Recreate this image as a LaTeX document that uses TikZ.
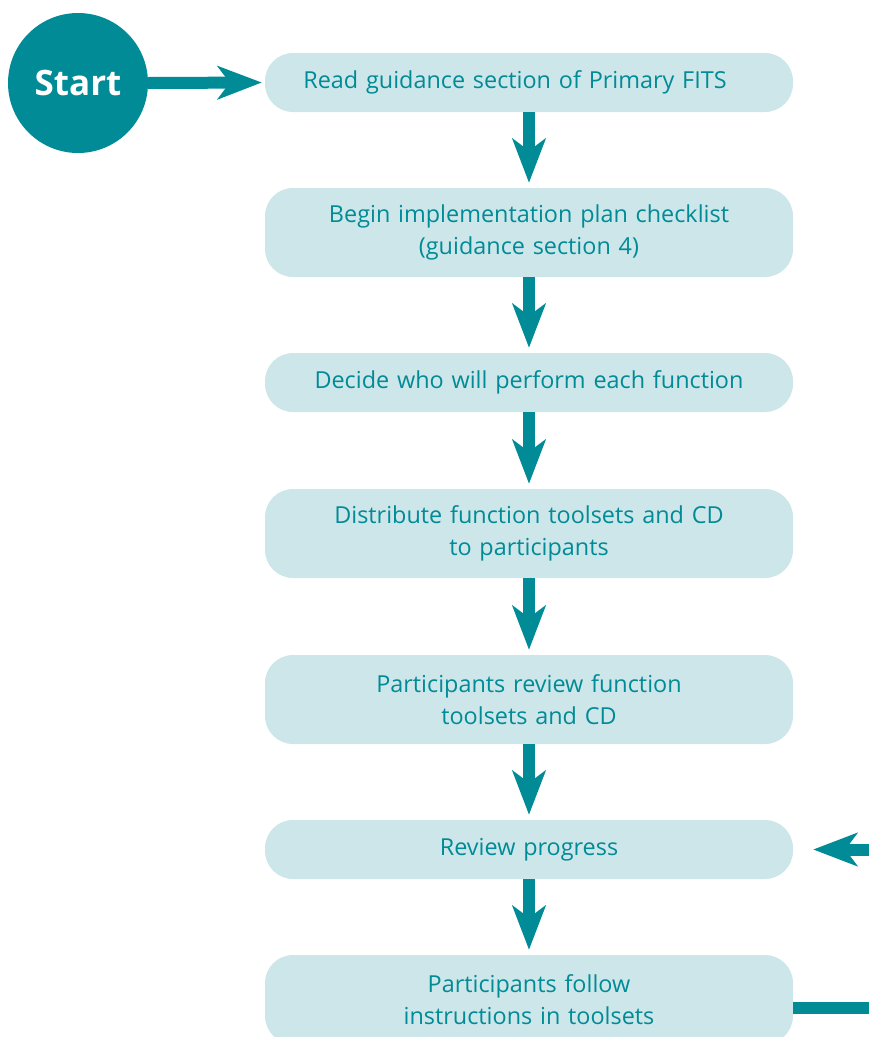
\documentclass[tikz,border=0pt]{standalone}
\usepackage{fontspec}
\setmainfont{Open Sans}
\usetikzlibrary{arrows.meta}
\definecolor{teal0}{RGB}{0,139,150}
\definecolor{boxfill}{RGB}{205,230,233}
\tikzset{
  x=1pt, y=-1pt,
  stepbox/.style={fill=boxfill, draw=none, rounded corners=28pt, minimum width=528pt, text width=510pt, align=center, text=teal0, font=\fontsize{23.4}{32}\selectfont, inner sep=0pt},
  onebox/.style={stepbox, minimum height=59pt},
  twobox/.style={stepbox, minimum height=89pt},
  flow/.style={draw=teal0, line width=12pt, -{Stealth[length=44pt, width=33pt, inset=12pt]}}
}
\begin{document}
\begin{tikzpicture}
\path[use as bounding box, clip] (0,0) rectangle (869,1037);
\node[circle, fill=teal0, minimum size=140pt, inner sep=0pt, text=white, font=\fontsize{35}{40}\selectfont\bfseries] (start) at (78,83) {Start};
\node[onebox] (b1) at (529,82.5) {Read guidance section of Primary FITS\hspace*{28pt}};
\node[twobox] (b2) at (529,232.5) {Begin implementation plan checklist\\(guidance section 4)};
\node[onebox] (b3) at (529,382.5) {Decide who will perform each function};
\node[twobox] (b4) at (529,533.5) {Distribute function toolsets and CD\\to participants};
\node[twobox] (b5) at (529,699.5) {Participants review function\\toolsets and CD};
\node[onebox] (b6) at (529,849.5) {Review progress};
\node[twobox] (b7) at (529,999.5) {Participants follow\\instructions in toolsets};
\draw[flow, shorten >=3pt] (start.east) -- (b1.west);
\draw[flow, shorten >=5pt] (b1.south) -- (b2.north);
\draw[flow, shorten >=5pt] (b2.south) -- (b3.north);
\draw[flow, shorten >=5pt] (b3.south) -- (b4.north);
\draw[flow, shorten >=5pt] (b4.south) -- (b5.north);
\draw[flow, shorten >=5pt] (b5.south) -- (b6.north);
\draw[flow, shorten >=5pt] (b6.south) -- (b7.north);
\draw[flow, shorten >=20pt] ([yshift=-8.5pt]b7.east) -- ++(120,0) |- (b6.east);
\end{tikzpicture}
\end{document}
